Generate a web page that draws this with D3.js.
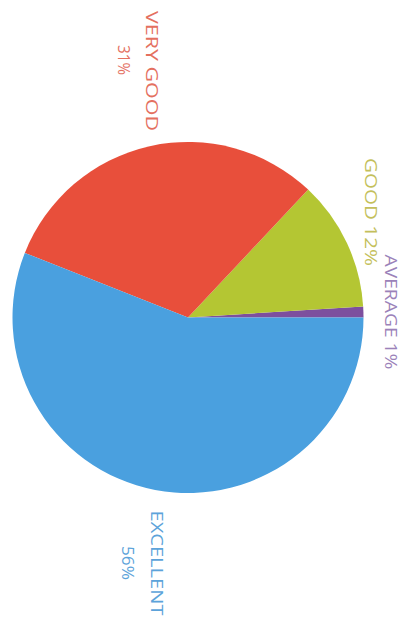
<!DOCTYPE html>
<html><head><meta charset="utf-8">
<script src="https://cdn.jsdelivr.net/npm/d3@7"></script>
<style>html,body{margin:0;padding:0;background:#fff;}svg{display:block;}</style>
</head><body>
<script>
const categories = ["AVERAGE", "GOOD", "VERY GOOD", "EXCELLENT"];
const values = [1, 12, 31, 56];
const sliceColors = ["#7d4f9e", "#b4c633", "#e84f3b", "#4aa0df"];
const labelColors = ["#9b82b9", "#c4bf5c", "#e4705f", "#5ca3da"];

const W = 407, H = 630;
const cx = 188, cy = 317.5, R = 175.5;

const svg = d3.select("body").append("svg").attr("width", W).attr("height", H);

const pie = d3.pie().sort(null).value(d => d)
  .startAngle(Math.PI / 2).endAngle(Math.PI / 2 - 2 * Math.PI);
const arcs = pie(values);
const arc = d3.arc().innerRadius(0).outerRadius(R);

const g = svg.append("g").attr("transform", `translate(${cx},${cy})`);
g.selectAll("path").data(arcs).enter().append("path")
  .attr("d", arc)
  .attr("fill", (d, i) => sliceColors[i]);

// labels (rotated, reading top-to-bottom)
const labelSpecs = [
  {i: 0, lines: [categories[0] + " " + values[0] + "%"], x: [391], y: 312, len: [115]},
  {i: 1, lines: [categories[1] + " " + values[1] + "%"], x: [371], y: 212, len: [108]},
  {i: 2, lines: [categories[2], values[2] + "%"], x: [152, 124], y: [71, 60], len: [120, 30]},
  {i: 3, lines: [categories[3], values[3] + "%"], x: [157, 128], y: [563, 563], len: [105, 34]}
];
labelSpecs.forEach(s => {
  s.lines.forEach((t, k) => {
    const yy = Array.isArray(s.y) ? s.y[k] : s.y;
    svg.append("text")
      .attr("transform", `translate(${s.x[k]},${yy}) rotate(90)`)
      .attr("text-anchor", "middle")
      .attr("dominant-baseline", "central")
      .attr("font-family", "'Open Sans', 'Liberation Sans', sans-serif")
      .attr("font-size", 17)
      .attr("font-weight", 500)
      .attr("textLength", s.len[k])
      .attr("lengthAdjust", "spacingAndGlyphs")
      .attr("fill", labelColors[s.i])
      .text(t);
  });
});
</script>
</body></html>
